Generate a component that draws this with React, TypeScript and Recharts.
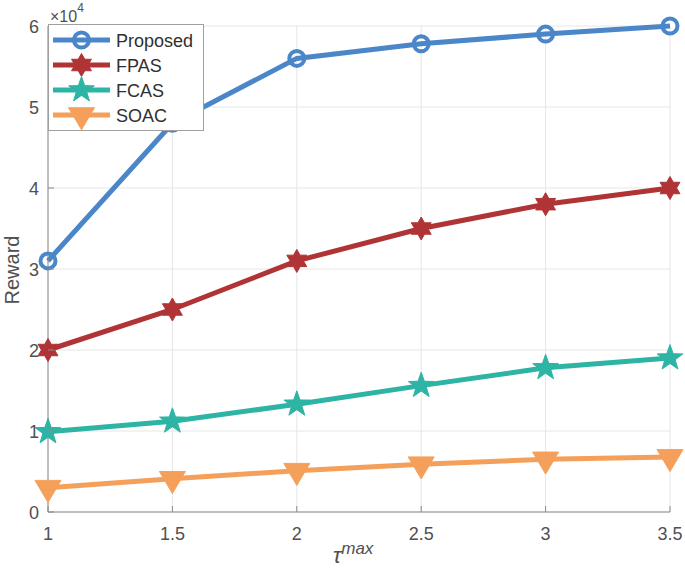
import React from 'react';
import { LineChart, Line, XAxis, YAxis, CartesianGrid, Legend } from 'recharts';

const tauValues = [1, 1.5, 2, 2.5, 3, 3.5];
const proposed = [3.1, 4.8, 5.6, 5.78, 5.9, 6.0];
const fpas = [2.0, 2.5, 3.1, 3.5, 3.8, 4.0];
const fcas = [0.99, 1.12, 1.33, 1.56, 1.78, 1.9];
const soac = [0.3, 0.41, 0.51, 0.59, 0.65, 0.68];
const xTicks = [1, 1.5, 2, 2.5, 3, 3.5];
const yTicks = [0, 1, 2, 3, 4, 5, 6];

const data = tauValues.map((t, i) => ({
  t,
  Proposed: proposed[i],
  FPAS: fpas[i],
  FCAS: fcas[i],
  SOAC: soac[i],
}));

const C_BLUE = '#4A86C8';
const C_RED = '#B03436';
const C_TEAL = '#2DB4A5';
const C_ORANGE = '#F5A05A';
const AXIS = '#8a8a8a';
const TXT = '#505050';
const FONT = '"Liberation Sans", Arial, Helvetica, sans-serif';

function starPoints(cx: number, cy: number, n: number, R: number, r: number) {
  const pts: string[] = [];
  for (let i = 0; i < 2 * n; i++) {
    const ang = -Math.PI / 2 + (i * Math.PI) / n;
    const rad = i % 2 === 0 ? R : r;
    pts.push(`${cx + rad * Math.cos(ang)},${cy + rad * Math.sin(ang)}`);
  }
  return pts.join(' ');
}

const CircleMark = ({ cx, cy, color }: any) => (
  <circle cx={cx} cy={cy} r={7.5} fill="none" stroke={color} strokeWidth={4} />
);
const HexMark = ({ cx, cy, color }: any) => (
  <polygon points={starPoints(cx, cy, 6, 11.5, 6.6)} fill={color} stroke={color} strokeWidth={1} />
);
const PentMark = ({ cx, cy, color }: any) => (
  <polygon points={starPoints(cx, cy, 5, 13.5, 5.4)} fill={color} stroke={color} strokeWidth={1} />
);
const TriMark = ({ cx, cy, color }: any) => (
  <polygon
    points={`${cx - 13},${cy - 7.3} ${cx + 13},${cy - 7.3} ${cx},${cy + 14.7}`}
    fill={color}
    stroke={color}
    strokeWidth={1}
  />
);

const makeDot = (Comp: any, color: string) => (props: any) => {
  const { cx, cy, index } = props;
  return <Comp key={`d-${index}`} cx={cx} cy={cy} color={color} />;
};

const legendItems = [
  { name: 'Proposed', color: C_BLUE, Mark: CircleMark },
  { name: 'FPAS', color: C_RED, Mark: HexMark },
  { name: 'FCAS', color: C_TEAL, Mark: PentMark },
  { name: 'SOAC', color: C_ORANGE, Mark: TriMark },
];

const LegendBox = () => (
  <svg width={156} height={107} style={{ display: 'block' }}>
    <rect x={0.5} y={0.5} width={155} height={106} fill="#fff" stroke="#a0a0a0" strokeWidth={1} />
    {legendItems.map((it, i) => {
      const y = 16 + i * 25;
      return (
        <g key={it.name}>
          <line x1={5} x2={62} y1={y} y2={y} stroke={it.color} strokeWidth={5} />
          <it.Mark cx={33.5} cy={y} color={it.color} />
          <text x={68} y={y + 6.5} fontSize={18} fontFamily={FONT} fill="#303030">
            {it.name}
          </text>
        </g>
      );
    })}
  </svg>
);

const BottomTick = (props: any) => {
  const { x, y, payload } = props;
  return (
    <g>
      <line x1={x} x2={x} y1={y} y2={y - 6} stroke={AXIS} />
      <text x={x} y={y + 28} textAnchor="middle" fontSize={18} fontFamily={FONT} fill={TXT}>
        {payload.value}
      </text>
    </g>
  );
};
const LeftTick = (props: any) => {
  const { x, y, payload } = props;
  return (
    <g>
      <line x1={x} x2={x + 6} y1={y} y2={y} stroke={AXIS} />
      <text x={x - 9} y={y + 6.5} textAnchor="end" fontSize={18} fontFamily={FONT} fill={TXT}>
        {payload.value}
      </text>
    </g>
  );
};
const TopTick = (props: any) => {
  const { x, y } = props;
  return <line x1={x} x2={x} y1={y} y2={y + 6} stroke={AXIS} />;
};
const RightTick = (props: any) => {
  const { x, y } = props;
  return <line x1={x} x2={x - 6} y1={y} y2={y} stroke={AXIS} />;
};

export default function App() {
  return (
    <div style={{ position: 'absolute', left: 0, top: 0, width: 685, height: 578, background: '#fff' }}>
      <LineChart
        width={685}
        height={578}
        data={data}
        margin={{ top: 26, right: 15, bottom: 0, left: 0 }}
        style={{ fontFamily: FONT }}
      >
        <CartesianGrid stroke="#e6e6e6" strokeWidth={1} horizontal vertical />
        <XAxis
          dataKey="t"
          type="number"
          domain={[1, 3.5]}
          ticks={xTicks}
          height={66}
          stroke={AXIS}
          tickSize={0}
          tickMargin={0}
          tick={<BottomTick />}
          tickLine={false}
          interval={0}
        />
        <XAxis
          xAxisId="top"
          orientation="top"
          dataKey="t"
          type="number"
          domain={[1, 3.5]}
          ticks={xTicks}
          height={0}
          stroke={AXIS}
          tickSize={0}
          tickMargin={0}
          tick={<TopTick />}
          tickLine={false}
          interval={0}
        />
        <YAxis
          type="number"
          domain={[0, 6]}
          ticks={yTicks}
          width={48}
          stroke={AXIS}
          tickSize={0}
          tickMargin={0}
          tick={<LeftTick />}
          tickLine={false}
          interval={0}
        />
        <YAxis
          yAxisId="right"
          orientation="right"
          type="number"
          domain={[0, 6]}
          ticks={yTicks}
          width={0}
          stroke={AXIS}
          tickSize={0}
          tickMargin={0}
          tick={<RightTick />}
          tickLine={false}
          interval={0}
        />
        <Legend
          layout="vertical"
          align="center"
          verticalAlign="middle"
          content={() => <LegendBox />}
          wrapperStyle={{ position: 'absolute', left: 48, top: 24, width: 156, height: 107 }}
        />
        <Line
          dataKey="SOAC"
          stroke={C_ORANGE}
          strokeWidth={5}
          dot={makeDot(TriMark, C_ORANGE)}
          activeDot={false}
          isAnimationActive={false}
        />
        <Line
          dataKey="FCAS"
          stroke={C_TEAL}
          strokeWidth={5}
          dot={makeDot(PentMark, C_TEAL)}
          activeDot={false}
          isAnimationActive={false}
        />
        <Line
          dataKey="FPAS"
          stroke={C_RED}
          strokeWidth={5}
          dot={makeDot(HexMark, C_RED)}
          activeDot={false}
          isAnimationActive={false}
        />
        <Line
          dataKey="Proposed"
          stroke={C_BLUE}
          strokeWidth={5}
          dot={makeDot(CircleMark, C_BLUE)}
          activeDot={false}
          isAnimationActive={false}
        />
      </LineChart>
      <svg
        width={685}
        height={578}
        style={{ position: 'absolute', left: 0, top: 0, pointerEvents: 'none' }}
      >
        <text x={50} y={22} fontSize={16} fontFamily={FONT} fill={TXT}>
          ×10
          <tspan fontSize={12} dy={-10}>4</tspan>
        </text>
        <text
          x={0}
          y={0}
          transform="translate(19,270) rotate(-90)"
          textAnchor="middle"
          fontSize={20}
          fontFamily={FONT}
          fill={TXT}
        >
          Reward
        </text>
        <text x={333} y={563} fontSize={22} fontFamily={FONT} fill={TXT} fontStyle="italic">
          τ
          <tspan fontSize={17} dy={-9}>max</tspan>
        </text>
      </svg>
    </div>
  );
}
